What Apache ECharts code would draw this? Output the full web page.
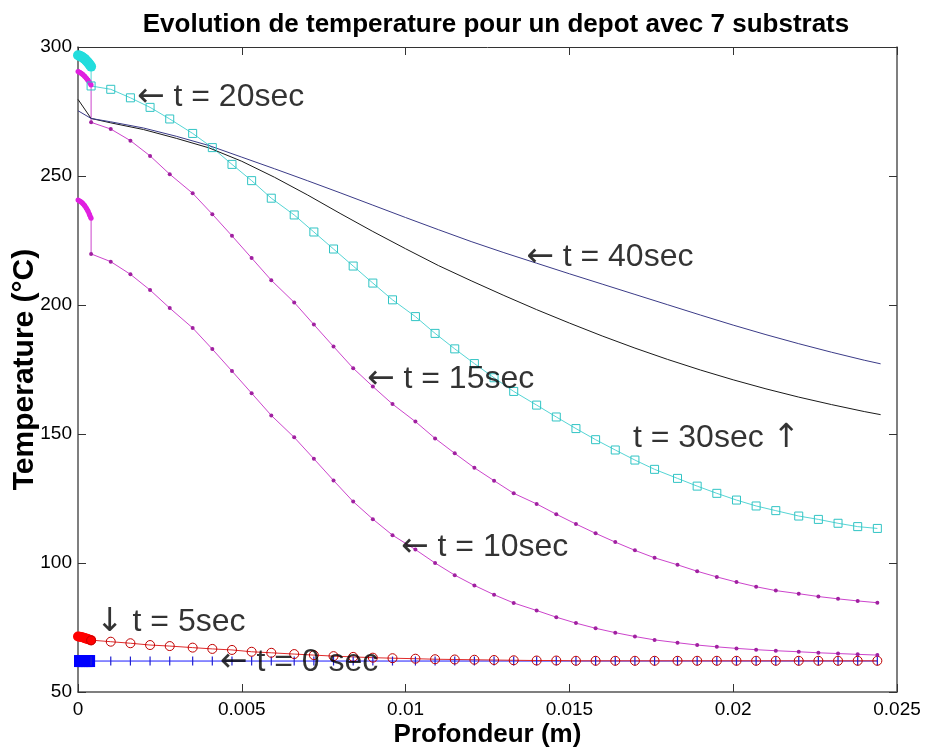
<!DOCTYPE html>
<html><head><meta charset="utf-8">
<script src="https://cdn.jsdelivr.net/npm/echarts/dist/echarts.min.js"></script>
<style>html,body{margin:0;padding:0;background:#fff}#c{width:925px;height:751px}</style>
</head><body><div id="c"></div>
<script>
// ---- data ----
const depthDepot = [0, 0.00005, 0.0001, 0.00015, 0.0002, 0.00025, 0.0003, 0.00035, 0.0004];
const depthSub = [0.0004, 0.0010, 0.0016, 0.0022, 0.0028, 0.0035, 0.0041, 0.0047, 0.0053, 0.0059,
                  0.0066, 0.0072, 0.0078, 0.0084, 0.0090, 0.0096, 0.0103, 0.0109, 0.0115, 0.0121,
                  0.0127, 0.0133, 0.0140, 0.0146, 0.0152, 0.0158, 0.0164, 0.0170, 0.0176, 0.0183,
                  0.0189, 0.0195, 0.0201, 0.0207, 0.0213, 0.0220, 0.0226, 0.0232, 0.0238, 0.0244];

const t0Depot = [62, 62, 62, 62, 62, 62, 62, 62, 62];
const t0Sub = [62, 62, 62, 62, 62, 62, 62, 62, 62, 62, 62, 62, 62, 62, 62, 62, 62, 62, 62, 62,
               62, 62, 62, 62, 62, 62, 62, 62, 62, 62, 62, 62, 62, 62, 62, 62, 62, 62, 62, 62];

const t5Depot = [71.5, 71.4, 71.3, 71.1, 70.9, 70.7, 70.5, 70.3, 70.1];
const t5Sub = [70.0, 69.5, 68.9, 68.2, 67.8, 67.2, 66.7, 66.3, 65.6, 65.2,
               64.7, 64.3, 63.9, 63.6, 63.3, 63.1, 62.9, 62.7, 62.6, 62.5,
               62.4, 62.3, 62.2, 62.2, 62.1, 62.1, 62.1, 62.1, 62.1, 62.1,
               62.1, 62.1, 62.1, 62.1, 62.1, 62.1, 62.1, 62.1, 62.1, 62.1];

const t10Depot = [240.7, 240.3, 239.9, 239.3, 238.6, 237.6, 236.5, 235.1, 233.6];
const t10Sub = [219.8, 216.8, 211.9, 205.8, 198.8, 191.1, 182.9, 174.4, 165.8, 157.2,
                148.7, 140.4, 132.0, 123.8, 117.0, 110.8, 105.2, 100.0, 95.3, 91.3,
                87.7, 84.5, 81.6, 79.0, 76.7, 74.7, 73.0, 71.5, 70.2, 69.1,
                68.2, 67.5, 66.9, 66.4, 66.0, 65.6, 65.2, 64.9, 64.6, 64.3];

const t15Depot = [290.5, 290.2, 289.8, 289.3, 288.7, 288.0, 287.2, 286.3, 285.3];
const t15Sub = [270.8, 268.2, 263.7, 257.8, 250.7, 243.3, 235.2, 226.8, 218.2, 209.6,
                201.0, 192.4, 183.9, 175.5, 168.4, 161.6, 154.8, 148.3, 142.5, 136.9,
                131.9, 127.0, 122.9, 118.9, 115.1, 111.5, 108.1, 104.9, 102.0, 99.3,
                96.8, 94.6, 92.6, 90.8, 89.3, 88.1, 87.0, 86.1, 85.3, 84.6];

const t20Depot = [296.8, 296.6, 296.3, 295.9, 295.4, 294.8, 294.1, 293.3, 292.4];
const t20Sub = [284.9, 283.6, 280.3, 276.6, 272.1, 266.5, 261.0, 254.5, 248.2, 241.4,
                234.9, 228.3, 221.7, 215.1, 208.5, 202.0, 195.5, 189.0, 183.0, 177.3,
                171.8, 166.5, 161.2, 156.6, 152.1, 147.8, 143.8, 139.9, 136.3, 132.8,
                129.8, 127.0, 124.4, 122.1, 120.3, 118.2, 116.9, 115.4, 114.1, 113.4];

const depthLine = [0, 0.0004, 0.001, 0.002, 0.003, 0.004, 0.005, 0.006, 0.007, 0.008, 0.009,
                   0.010, 0.011, 0.012, 0.013, 0.014, 0.015, 0.016, 0.017, 0.018, 0.019,
                   0.020, 0.021, 0.022, 0.023, 0.024, 0.0245];
const t30 = [279.7, 272.3, 270.6, 268.0, 264.6, 260.9, 255.7, 249.5, 242.7, 235.5, 228.5,
             221.8, 215.3, 209.4, 203.7, 198.2, 193.0, 188.0, 183.3, 178.9, 174.8,
             171.0, 167.5, 164.3, 161.4, 158.7, 157.5];
const t40 = [275.3, 272.3, 271.0, 268.6, 265.4, 261.8, 257.3, 252.8, 248.2, 243.5, 238.7,
             233.9, 229.2, 224.6, 220.3, 216.2, 212.1, 208.1, 204.1, 200.1, 196.1,
             192.2, 188.5, 185.0, 181.7, 178.6, 177.2];

const xTicks = [0, 0.005, 0.01, 0.015, 0.02, 0.025];
const yTicks = [50, 100, 150, 200, 250, 300];

const annotArrow = ['\u2190', '\u2190', '\u2190', '\u2190', '', '\u2193', '\u2190'];
const annotText = ['t = 20sec', 't = 40sec', 't = 15sec', 't = 10sec', 't = 30sec', 't = 5sec', 't = 0 sec'];
const annotTail = ['', '', '', '', '\u2191', '', ''];
const annotX = [0.0018, 0.01368, 0.00882, 0.00986, 0.01694, 0.00055, 0.00433];
const annotY = [280.6, 218.6, 171.3, 106.2, 148.4, 77.1, 61.6];

// ---- chart ----
const FONT = "'Liberation Sans', Arial, Helvetica, sans-serif";
const pairs = (xs, ys) => xs.map((x, i) => [x, ys[i]]);
const subData = (dep, sub) => [[depthDepot[depthDepot.length - 1], dep[dep.length - 1]]].concat(pairs(depthSub, sub));

function depotSeries(vals, color, symbol, size, width) {
  return { type: 'line', data: pairs(depthDepot, vals), symbol: symbol, symbolSize: size,
    showSymbol: true, itemStyle: { color: color }, lineStyle: { color: color, width: width },
    silent: true, clip: false };
}
function subSeries(dep, sub, lineColor, symbol, size, itemStyle) {
  return { type: 'line', data: subData(dep, sub), symbol: symbol,
    symbolSize: (v, p) => p.dataIndex === 0 ? 0 : size,
    showSymbol: true, itemStyle: itemStyle, lineStyle: { color: lineColor, width: 1 },
    silent: true, clip: false };
}

const chart = echarts.init(document.getElementById('c'), null, { renderer: 'canvas' });
chart.setOption({
  animation: false,
  backgroundColor: '#fff',
  title: { text: 'Evolution de temperature pour un depot avec 7 substrats', left: 491, top: 7,
    textAlign: 'center',
    textStyle: { fontFamily: FONT, fontSize: 26, fontWeight: 'bold', color: '#000' } },
  grid: { left: 78, right: 28, top: 47, bottom: 59, containLabel: false, outerBoundsMode: 'none' },
  xAxis: [
    { type: 'value', min: 0, max: 0.025, interval: 0.005, position: 'bottom',
      name: 'Profondeur (m)', nameLocation: 'middle', nameGap: 30, nameMoveOverlap: false,
      nameTextStyle: { fontFamily: FONT, fontSize: 26, fontWeight: 'bold', color: '#000' },
      axisLine: { onZero: false, lineStyle: { color: '#555', width: 1.5 } },
      axisTick: { inside: true, length: 8, lineStyle: { color: '#333' } },
      axisLabel: { margin: 8, fontFamily: FONT, fontSize: 19, color: '#000',
        formatter: v => String(+v.toFixed(3)) },
      splitLine: { show: false } },
    { type: 'value', min: 0, max: 0.025, interval: 0.005, position: 'top',
      axisLine: { onZero: false, lineStyle: { color: '#333', width: 1 } },
      axisTick: { inside: true, length: 8, lineStyle: { color: '#333' } },
      axisLabel: { show: false }, splitLine: { show: false } }
  ],
  yAxis: [
    { type: 'value', min: 50, max: 300, interval: 50, position: 'left',
      name: 'Temperature (°C)', nameLocation: 'middle', nameGap: 38, nameMoveOverlap: false,
      nameTextStyle: { fontFamily: FONT, fontSize: 30, fontWeight: 'bold', color: '#000' },
      axisLine: { onZero: false, lineStyle: { color: '#555', width: 1.5 } },
      axisTick: { inside: true, length: 8, lineStyle: { color: '#333' } },
      axisLabel: { margin: 6, fontFamily: FONT, fontSize: 19, color: '#000' },
      splitLine: { show: false } },
    { type: 'value', min: 50, max: 300, interval: 50, position: 'right',
      axisLine: { onZero: false, lineStyle: { color: '#555', width: 1.5 } },
      axisTick: { inside: true, length: 8, lineStyle: { color: '#333' } },
      axisLabel: { show: false }, splitLine: { show: false } }
  ],
  series: [
    depotSeries(t0Depot, '#0000ff', 'rect', [8, 12], 1),
    subSeries(t0Depot, t0Sub, '#1a1aff', 'rect', [1.2, 9], { color: '#2020d0' }),
    depotSeries(t5Depot, '#ff0000', 'circle', 10, 6),
    subSeries(t5Depot, t5Sub, '#e02a2a', 'circle', 9,
      { color: 'rgba(0,0,0,0)', borderColor: '#c00000', borderWidth: 1 }),
    depotSeries(t10Depot, '#e020e0', 'circle', 5, 5),
    subSeries(t10Depot, t10Sub, '#cc44cc', 'circle', 4, { color: '#a020a0' }),
    depotSeries(t15Depot, '#e020e0', 'circle', 5, 5),
    subSeries(t15Depot, t15Sub, '#cc44cc', 'circle', 4, { color: '#a020a0' }),
    depotSeries(t20Depot, '#22dddd', 'circle', 10, 10),
    subSeries(t20Depot, t20Sub, '#55d5d5', 'rect', 8,
      { color: 'rgba(0,0,0,0)', borderColor: '#30c4c4', borderWidth: 1 }),
    { type: 'line', data: pairs(depthLine, t30), symbol: 'none', silent: true,
      lineStyle: { color: '#1a1a1a', width: 1 } },
    { type: 'line', data: pairs(depthLine, t40), symbol: 'none', silent: true,
      lineStyle: { color: '#3b3b88', width: 1 } },
    { type: 'scatter', symbolSize: 0, silent: true, z: 10,
      data: annotX.map((x, i) => ({ value: [x, annotY[i]], name: String(i) })),
      label: { show: true, position: 'inside', align: 'left', verticalAlign: 'middle',
        formatter: p => {
          const i = +p.name;
          let s = '';
          if (annotArrow[i]) s += '{a|' + annotArrow[i] + '}{t| }';
          s += '{t|' + annotText[i] + '}';
          if (annotTail[i]) s += '{t| }{a|' + annotTail[i] + '}';
          return s;
        },
        rich: {
          a: { fontFamily: "'DejaVu Sans', sans-serif", fontSize: 33, color: '#000' },
          t: { fontFamily: FONT, fontSize: 32, color: '#000' }
        } } }
  ]
});
</script></body></html>
